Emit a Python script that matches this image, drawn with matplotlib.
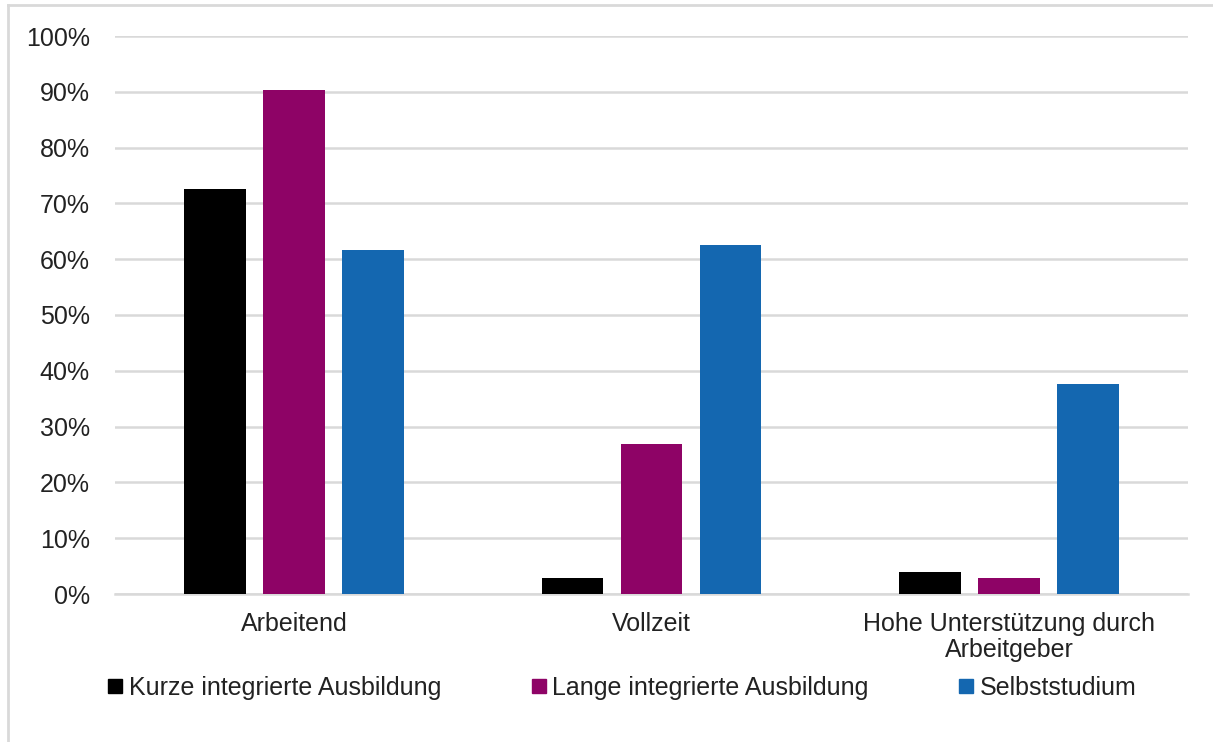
import numpy as np
import matplotlib.pyplot as plt
from matplotlib.lines import Line2D

plt.rcParams['font.family'] = ['Liberation Sans', 'DejaVu Sans']

# values, in percent
categories = ['Arbeitend', 'Vollzeit', 'Hohe Unterstützung durch\nArbeitgeber']
series_names = ['Kurze integrierte Ausbildung', 'Lange integrierte Ausbildung', 'Selbststudium']
kurz = [72.5, 2.8, 4.0]
lang = [90.3, 26.9, 2.8]
selbst = [61.6, 62.6, 37.6]
y_ticks = [0, 10, 20, 30, 40, 50, 60, 70, 80, 90, 100]

colors = ['#000000', '#8e0366', '#1467b0']
W, H = 1213, 742

fig = plt.figure(figsize=(W / 100, H / 100), dpi=100)
ax = fig.add_axes([115 / W, 1 - 594 / H, (1188 - 115) / W, (594 - 36) / H])

# light grey frame on the left and top of the picture
fig.add_artist(Line2D([8 / W, 8 / W], [0, 1 - 5 / H], color='#d9d9d9', lw=2))
fig.add_artist(Line2D([8 / W, 1], [1 - 5 / H, 1 - 5 / H], color='#d9d9d9', lw=2))

x = np.arange(len(categories))
step = 0.221
width = 0.173
for i, (vals, name) in enumerate(zip([kurz, lang, selbst], series_names)):
    ax.bar(x + (i - 1) * step, vals, width, color=colors[i], label=name, zorder=3)

ax.set_xlim(-0.5, 2.5)
ax.set_ylim(0, 100)
ax.set_yticks(y_ticks)
ax.set_yticklabels([f'{t}%' for t in y_ticks], fontsize=18, color='#222222')
ax.set_xticks(x)
ax.set_xticklabels(categories, fontsize=18, color='#222222', linespacing=1.1)
ax.tick_params(axis='both', length=0)
ax.tick_params(axis='y', pad=18)
ax.tick_params(axis='x', pad=13)
ax.grid(axis='y', color='#d9d9d9', lw=1.8, zorder=0)
for s in ['top', 'right', 'left']:
    ax.spines[s].set_visible(False)
ax.spines['bottom'].set_color('#d9d9d9')
ax.spines['bottom'].set_linewidth(1.8)

handles = [Line2D([], [], marker='s', ls='none', markersize=9.5, color=c) for c in colors]
fig.legend(handles, series_names, loc='center', bbox_to_anchor=(622 / W, 1 - 688 / H),
           ncol=3, frameon=False, fontsize=18, handletextpad=0.25, columnspacing=3.6,
           handlelength=0.6, labelcolor='#222222')

fig.savefig('out.png', dpi=100)
